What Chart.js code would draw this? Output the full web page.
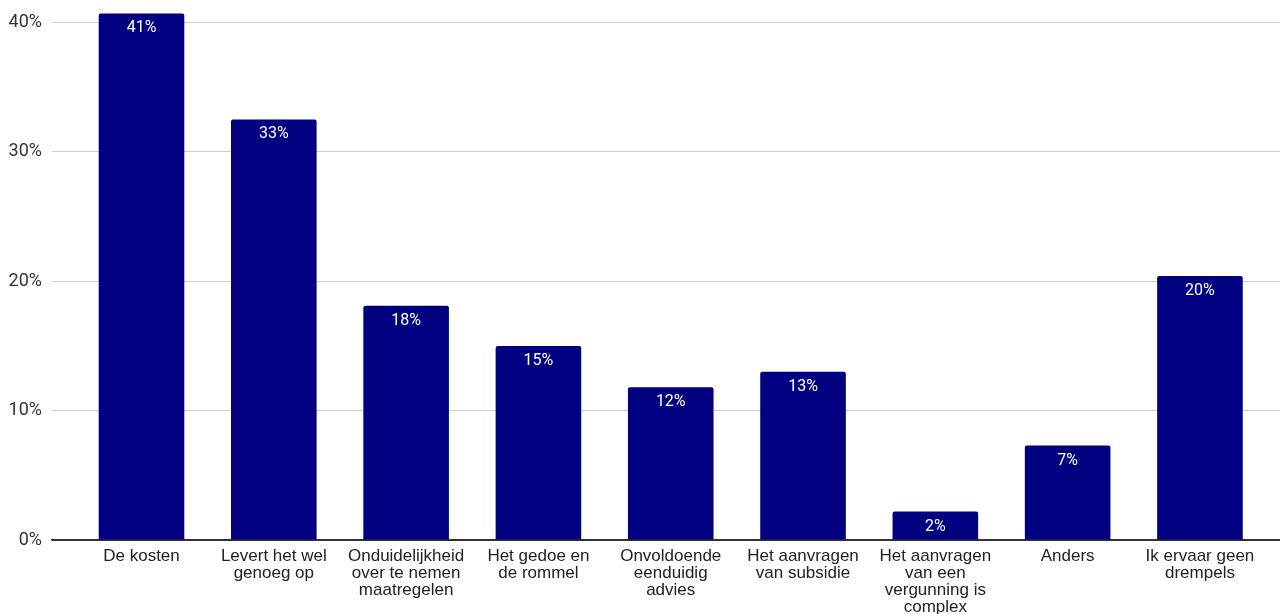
<!DOCTYPE html>
<html>
<head>
<meta charset="utf-8">
<script src="https://cdn.jsdelivr.net/npm/chart.js@4/dist/chart.umd.min.js"></script>
<style>
  html, body { margin: 0; padding: 0; background: #fff; }
  #wrap { width: 1280px; height: 614px; }
</style>
</head>
<body>
<div id="wrap"><canvas id="c" width="1280" height="614"></canvas></div>
<script>
// Drempels bij verduurzaming (% van respondenten)
const categories = [
  ["De kosten"],
  ["Levert het wel", "genoeg op"],
  ["Onduidelijkheid", "over te nemen", "maatregelen"],
  ["Het gedoe en", "de rommel"],
  ["Onvoldoende", "eenduidig", "advies"],
  ["Het aanvragen", "van subsidie"],
  ["Het aanvragen", "van een", "vergunning is", "complex"],
  ["Anders"],
  ["Ik ervaar geen", "drempels"]
];
const percentages = [40.7, 32.5, 18.1, 15.0, 11.8, 13.0, 2.2, 7.3, 20.4];
const yTickValues = [0, 10, 20, 30, 40];

const barColor = '#000080';

// White value labels just inside the top of each bar
const valueLabels = {
  id: 'valueLabels',
  afterDatasetsDraw(chart) {
    const ctx = chart.ctx;
    const meta = chart.getDatasetMeta(0);
    ctx.save();
    ctx.fillStyle = '#ffffff';
    ctx.font = '16px Roboto';
    ctx.textAlign = 'center';
    ctx.textBaseline = 'middle';
    meta.data.forEach((bar, i) => {
      ctx.fillText(Math.round(percentages[i]) + '%', bar.x, bar.y + 15);
    });
    ctx.restore();
  }
};

new Chart(document.getElementById('c'), {
  type: 'bar',
  data: {
    datasets: [{
      data: percentages.map((v, i) => ({ x: i, y: v })),
      backgroundColor: barColor,
      borderRadius: { topLeft: 2, topRight: 2 },
      borderSkipped: 'start',
      barPercentage: 0.647,
      categoryPercentage: 1
    }]
  },
  options: {
    responsive: false,
    animation: false,
    devicePixelRatio: 1,
    layout: { padding: { top: 9.5, right: 0, left: 0, bottom: 0 } },
    plugins: {
      legend: { display: false },
      tooltip: { enabled: false }
    },
    scales: {
      x: {
        type: 'linear',
        offset: false,
        min: -0.6765,
        max: 8.605,
        afterBuildTicks(scale) {
          scale.ticks = categories.map((_, i) => ({ value: i }));
        },
        afterFit(scale) { scale.height = 74; },
        grid: { display: false, drawTicks: false },
        border: { display: true, color: '#333333', width: 1.5 },
        ticks: {
          autoSkip: false,
          maxRotation: 0,
          padding: 8,
          color: '#222222',
          font: { family: 'Liberation Sans, Arial, sans-serif', size: 17, lineHeight: 1 },
          callback: (v) => categories[v] || ''
        }
      },
      y: {
        min: 0,
        max: 41,
        afterBuildTicks(scale) {
          scale.ticks = yTickValues.map(v => ({ value: v }));
        },
        afterFit(scale) {
          scale.width = 52;
          scale.paddingTop = 0;
          scale.paddingBottom = 0;
        },
        border: { display: false },
        grid: {
          drawTicks: false,
          color: (c) => c.tick && c.tick.value === 0 ? '#333333' : '#cccccc',
          lineWidth: 1
        },
        ticks: {
          padding: 10,
          color: '#333333',
          font: { family: 'Roboto', size: 18 },
          callback: (v) => v + '%'
        }
      }
    }
  },
  plugins: [valueLabels]
});
</script>
</body>
</html>
